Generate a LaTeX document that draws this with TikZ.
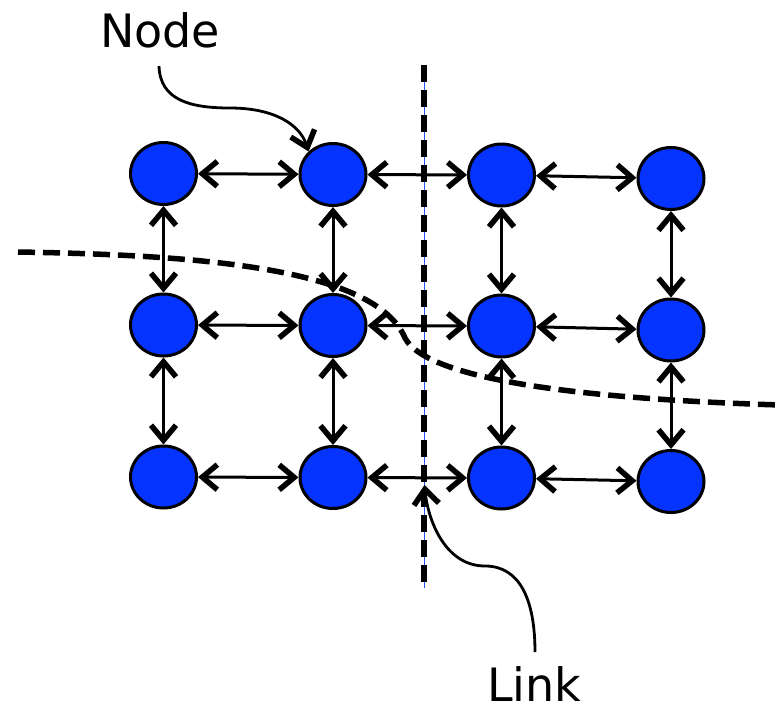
\documentclass[tikz,border=0pt]{standalone}
\usepackage{fontspec}
\setmainfont{DejaVu Sans}
\usetikzlibrary{shapes.geometric,arrows.meta}
\definecolor{nodeblue}{RGB}{5,51,255}
\definecolor{thinblue}{RGB}{40,80,255}
\tikzset{
  barb/.tip={Straight Barb[length=15pt,width=25pt,line width=5.5pt]},
  netnode/.style={ellipse,draw=black,line width=3pt,fill=nodeblue,minimum width=66pt,minimum height=62pt,inner sep=0pt},
  link/.style={line width=3pt,barb-barb},
  callout/.style={line width=2.8pt,-barb},
  cutline/.style={line width=5.5pt,dash pattern=on 17pt off 8pt},
  lbl/.style={inner sep=0pt,font=\fontsize{46}{50}\selectfont}
}
\begin{document}
\begin{tikzpicture}[x=1pt,y=-1pt]
\useasboundingbox (0,0) rectangle (780,710);
% nodes
\node[netnode] (n11) at (163.5,173.5) {};
\node[netnode] (n12) at (333,174.5) {};
\node[netnode] (n13) at (501.5,175) {};
\node[netnode] (n14) at (671,178.5) {};
\node[netnode] (n21) at (163.5,325) {};
\node[netnode] (n22) at (333,325.5) {};
\node[netnode] (n23) at (501.5,326) {};
\node[netnode] (n24) at (671,330) {};
\node[netnode] (n31) at (163.5,477) {};
\node[netnode] (n32) at (333,477.5) {};
\node[netnode] (n33) at (501.5,478) {};
\node[netnode] (n34) at (671,481.5) {};
% horizontal links
\foreach \r in {1,2,3}{
  \draw[link] (n\r1) -- (n\r2);
  \draw[link] (n\r2) -- (n\r3);
  \draw[link] (n\r3) -- (n\r4);
}
% vertical links
\foreach \c in {1,2,3,4}{
  \draw[link] (n1\c) -- (n2\c);
  \draw[link] (n2\c) -- (n3\c);
}
% vertical cut
\coordinate (vtop) at (424,65);
\coordinate (vbot) at (424,588);
\draw[thinblue,line width=1pt] (vtop) -- (vbot);
\draw[cutline] (vtop) -- (vbot);
% curved cut
\coordinate (cl) at (18,252);
\coordinate (cm) at (405,338);
\coordinate (cr) at (780,405);
\draw[cutline] (cl) .. controls (200,255) and (375,268) .. (cm)
  .. controls (430,385) and (620,400) .. (cr);
% labels
\node[lbl,anchor=base west] (nodelbl) at (100,47) {Node};
\node[lbl,anchor=base west] (linklbl) at (487,701) {Link};
\coordinate (ns) at (159,66);
\coordinate (ls) at (535,652);
\coordinate (lt) at (424.5,485);
\draw[callout] (ns) .. controls (160,100) and (190,108) .. (230,108)
  .. controls (275,108) and (300,125) .. (n12.north west);
\draw[callout] (ls) .. controls (535,600) and (520,566) .. (485,566)
  .. controls (445,566) and (428,520) .. (lt);
\end{tikzpicture}
\end{document}
